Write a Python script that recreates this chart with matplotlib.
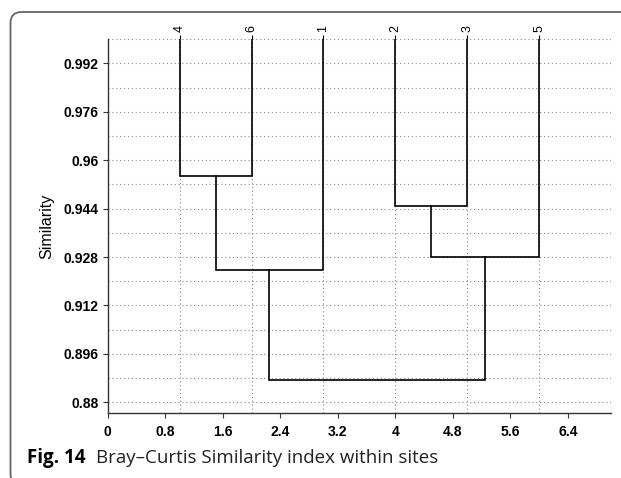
import matplotlib
matplotlib.use('Agg')
import matplotlib.pyplot as plt
import matplotlib.patches as patches
import matplotlib.transforms as mtransforms
from matplotlib.path import Path
import numpy as np

# leaf labels in dendrogram order
leaves = ['4', '6', '1', '2', '3', '5']
leaf_x = [1, 2, 3, 4, 5, 6]

# merges: node ids 0-5 are leaves, new nodes get 6, 7, ...
merge_a = [0, 3, 6, 7, 8]
merge_b = [1, 4, 2, 5, 9]
merge_sim = [0.9549, 0.9450, 0.9238, 0.9281, 0.8874]

xticks = [0, 0.8, 1.6, 2.4, 3.2, 4, 4.8, 5.6, 6.4]
xtick_labels = ['0', '0.8', '1.6', '2.4', '3.2', '4', '4.8', '5.6', '6.4']
yticks = [0.88, 0.896, 0.912, 0.928, 0.944, 0.96, 0.976, 0.992]
ytick_labels = ['0.88', '0.896', '0.912', '0.928', '0.944', '0.96', '0.976', '0.992']

plt.rcParams['font.family'] = ['Liberation Sans', 'DejaVu Sans']

fig = plt.figure(figsize=(6.21, 4.78), dpi=100)
ax = fig.add_axes([0.1734, 0.136, 0.8106, 0.782])

top = 1.0
ax.set_xlim(0, 7)
ax.set_ylim(0.87646, top)

# grid
for gy in np.arange(0.88, 1.0001, 0.008):
    ax.axhline(gy, color='#8a8a8a', lw=0.8, ls=(0, (1, 2.5)), zorder=1)
for gx in range(1, 8):
    ax.axvline(gx, color='#8a8a8a', lw=0.8, ls=(0, (1, 2.5)), zorder=1)

# dendrogram
node_x = list(leaf_x)
node_h = [top] * len(leaf_x)
for a, b, s in zip(merge_a, merge_b, merge_sim):
    xa, xb = node_x[a], node_x[b]
    ax.plot([xa, xa, xb, xb], [node_h[a], s, s, node_h[b]],
            color='black', lw=1.2, zorder=3, solid_joinstyle='miter')
    node_x.append((xa + xb) / 2)
    node_h.append(s)

ax.spines['top'].set_visible(False)
ax.spines['right'].set_visible(False)
for sp in ['left', 'bottom']:
    ax.spines[sp].set_color('#333333')
    ax.spines[sp].set_linewidth(1.0)

ax.set_xticks(xticks)
ax.set_xticklabels(xtick_labels, fontweight='bold', fontsize=10)
ax.set_yticks(yticks)
ax.set_yticklabels(ytick_labels, fontweight='bold', fontsize=10)
ax.tick_params(direction='out', length=3.5, width=0.8, color='#333333')
ax.tick_params(axis='y', pad=3)
ax.tick_params(axis='x', pad=5)
ax.set_ylabel('Similarity', fontsize=11.5, labelpad=7)

top_ax = ax.secondary_xaxis('top')
top_ax.set_xticks(leaf_x)
top_ax.set_xticklabels(leaves, rotation=90, fontsize=9)
top_ax.tick_params(direction='out', length=3, width=0.8, pad=2)
top_ax.spines['top'].set_visible(False)

# page frame (top and left edges only, rounded corners), in pixels
r = 11
fx, ftop, fbot = 10.5, 466, -7
verts = [(700, ftop), (fx + r, ftop), (fx, ftop), (fx, ftop - r),
         (fx, fbot + r), (fx, fbot), (fx + r, fbot), (100, fbot)]
codes = [Path.MOVETO, Path.LINETO, Path.CURVE3, Path.CURVE3,
         Path.LINETO, Path.CURVE3, Path.CURVE3, Path.LINETO]
frame = patches.PathPatch(Path(verts, codes), fill=False,
                          edgecolor='#666666', lw=1.3,
                          transform=mtransforms.IdentityTransform())
fig.add_artist(frame)

# caption
t1 = fig.text(27 / 621, 1 - 463 / 478, 'Fig. 14', fontsize=13.5,
              fontweight='bold', family=['Open Sans', 'DejaVu Sans'],
              va='baseline')
fig.canvas.draw()
bb = t1.get_window_extent()
fig.text((bb.x1 + 11) / 621, 1 - 463 / 478,
         'Bray\u2013Curtis Similarity index within sites', fontsize=13.5,
         family=['Open Sans', 'DejaVu Sans'], va='baseline', color='#222222')

fig.savefig('out.png', dpi=100)
